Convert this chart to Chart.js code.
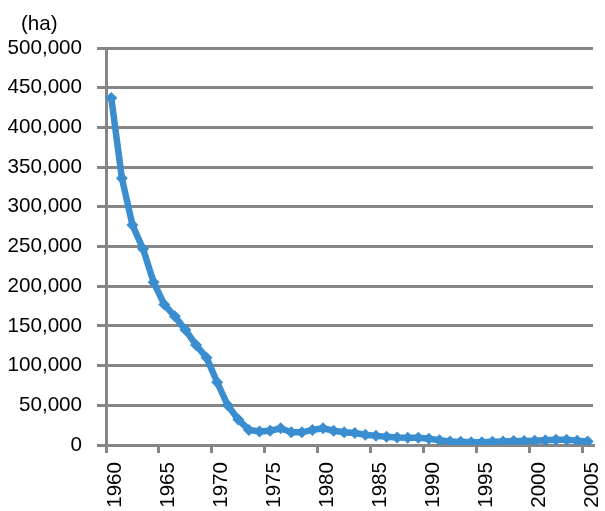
<!DOCTYPE html>
<html>
<head>
<meta charset="utf-8">
<script src="https://cdn.jsdelivr.net/npm/chart.js@4/dist/chart.umd.min.js"></script>
<style>
  html, body { margin: 0; padding: 0; background: #ffffff; }
  #wrap { position: relative; width: 605px; height: 511px; }
</style>
</head>
<body>
<div id="wrap"><canvas id="c" width="605" height="511"></canvas></div>
<script>
// ---- data ----
const years = [];
for (let y = 1960; y <= 2005; y++) years.push(String(y));
const unitLabel = '(ha)';
const areaValues = [
  437000, 336000, 277000, 247000, 205000, 177000, 162000, 145000, 126000, 110000,
  79000, 50000, 32000, 19000, 17000, 18000, 21000, 16000, 16000, 19000,
  21000, 18000, 16000, 15000, 13000, 11500, 10500, 9500, 9000, 9000,
  8000, 6000, 4500, 4000, 3500, 3500, 4000, 4500, 5000, 5000,
  5500, 6000, 6500, 6500, 5500, 4500
];
const yTickMax = 500000;
const yTickStep = 50000;

const gridGray = '#868686';
const lineBlue = '#3A8ED0';
const fontFamily = '"Liberation Sans", Arial, sans-serif';

const unitPlugin = {
  id: 'unitLabel',
  afterDraw(chart) {
    const ctx = chart.ctx;
    ctx.save();
    ctx.fillStyle = '#000000';
    ctx.font = '20.6px ' + fontFamily;
    ctx.textAlign = 'left';
    ctx.textBaseline = 'alphabetic';
    ctx.fillText(unitLabel, 21, 30);
    ctx.restore();
  }
};

new Chart(document.getElementById('c'), {
  type: 'line',
  data: {
    labels: years,
    datasets: [{
      data: areaValues,
      borderColor: lineBlue,
      backgroundColor: lineBlue,
      borderWidth: 6.5,
      pointStyle: 'rectRot',
      pointRadius: 6,
      pointBorderWidth: 0,
      pointBackgroundColor: lineBlue,
      tension: 0,
      fill: false
    }]
  },
  options: {
    responsive: false,
    animation: false,
    devicePixelRatio: 1,
    layout: { padding: { top: 48, right: 12, left: 0, bottom: 0 } },
    plugins: { legend: { display: false }, tooltip: { enabled: false }, title: { display: false } },
    scales: {
      x: {
        type: 'category',
        offset: true,
        afterFit(scale) {
          scale.height = 66;
          scale.paddingLeft = 0;
          scale.paddingRight = 0;
        },
        grid: {
          offset: true,
          drawOnChartArea: false,
          drawTicks: true,
          tickLength: 8,
          lineWidth: 3,
          color(ctx) {
            if (ctx.index === undefined || ctx.index >= years.length) return 'rgba(0,0,0,0)';
            return ctx.index % 5 === 0 ? gridGray : 'rgba(0,0,0,0)';
          }
        },
        border: { display: true, color: gridGray, width: 3 },
        ticks: {
          autoSkip: false,
          minRotation: 90,
          maxRotation: 90,
          padding: 9,
          labelOffset: 4.5,
          color: '#000000',
          font: { family: fontFamily, size: 20.6 },
          callback(value, index) { return index % 5 === 0 ? years[index] : ''; }
        }
      },
      y: {
        min: 0,
        max: yTickMax,
        afterFit(scale) { scale.width = 106; },
        grid: {
          color: gridGray,
          lineWidth: 3,
          drawTicks: true,
          tickLength: 9
        },
        border: { display: true, color: gridGray, width: 3 },
        ticks: {
          stepSize: yTickStep,
          padding: 15,
          color: '#000000',
          font: { family: fontFamily, size: 20.6 },
          callback(v) { return v.toLocaleString('en-US'); }
        }
      }
    }
  },
  plugins: [unitPlugin]
});
</script>
</body>
</html>
